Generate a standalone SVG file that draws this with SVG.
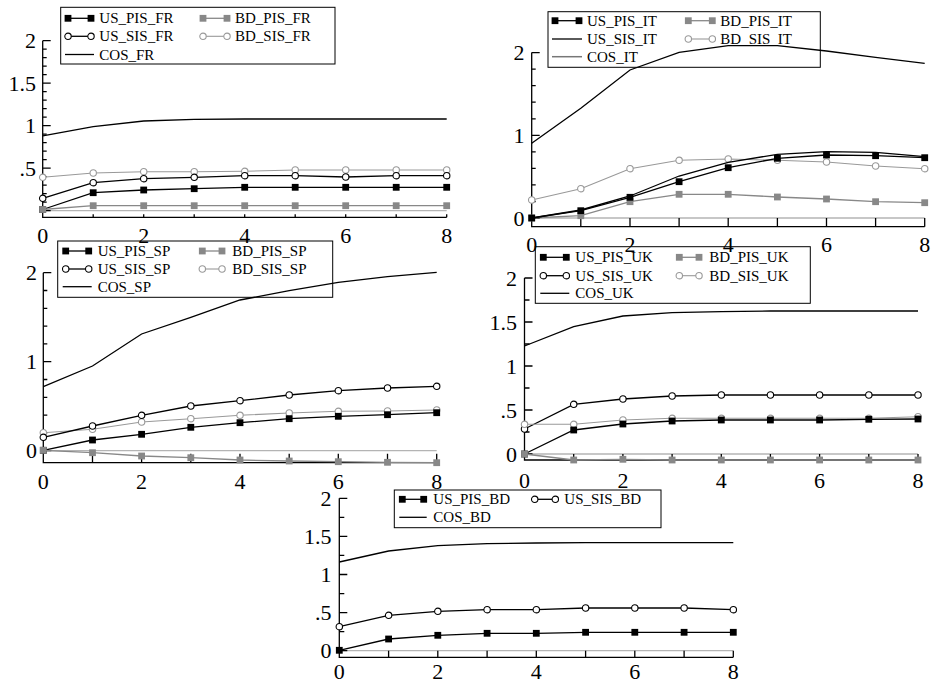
<svg xmlns="http://www.w3.org/2000/svg" width="932" height="688" viewBox="0 0 932 688" font-family="Liberation Serif, Times New Roman, DejaVu Serif, serif">
<style>
text{font-family:'Liberation Serif','Times New Roman','DejaVu Serif',serif;fill:#000}
.ty{font-size:22px;text-anchor:end}
.tx{font-size:22px;text-anchor:middle}
.lg{font-size:15px}
.box{fill:none;stroke:#000;stroke-width:1}
.ax{fill:none;stroke:#000;stroke-width:1.3}
.zero{fill:none;stroke:#b4b4b4;stroke-width:1.3}
.k{fill:none;stroke:#000;stroke-width:1.3}
.g{fill:none;stroke:#999;stroke-width:1.1}
.gd{fill:none;stroke:#888;stroke-width:1.3}
.cosit{fill:none;stroke:#777;stroke-width:1.5}
.sk{marker-start:url(#mSk);marker-mid:url(#mSk);marker-end:url(#mSk)}
.sg{marker-start:url(#mSg);marker-mid:url(#mSg);marker-end:url(#mSg)}
.ck{marker-start:url(#mCk);marker-mid:url(#mCk);marker-end:url(#mCk)}
.cg{marker-start:url(#mCg);marker-mid:url(#mCg);marker-end:url(#mCg)}
</style>
<defs>
<marker id="mSk" markerUnits="userSpaceOnUse" markerWidth="8" markerHeight="8" refX="4" refY="4" overflow="visible"><rect x="0.6" y="0.6" width="6.8" height="6.8" fill="#000"/></marker>
<marker id="mSg" markerUnits="userSpaceOnUse" markerWidth="8" markerHeight="8" refX="4" refY="4" overflow="visible"><rect x="0.6" y="0.6" width="6.8" height="6.8" fill="#888"/></marker>
<marker id="mCk" markerUnits="userSpaceOnUse" markerWidth="9" markerHeight="9" refX="4.5" refY="4.5" overflow="visible"><circle cx="4.5" cy="4.5" r="3.2" fill="#fff" stroke="#000" stroke-width="1.1"/></marker>
<marker id="mCg" markerUnits="userSpaceOnUse" markerWidth="9" markerHeight="9" refX="4.5" refY="4.5" overflow="visible"><circle cx="4.5" cy="4.5" r="3.2" fill="#fff" stroke="#999" stroke-width="1.1"/></marker>
</defs>
<rect width="932" height="688" fill="#fff"/>

<!-- FR -->
<g id="panel-fr">
<line class="zero" x1="42.7" y1="210.7" x2="446.7" y2="210.7"/>
<path class="ax" d="M42.7 40.7V217.3H446.7"/>
<path class="ax" d="M42.7 40.7h8M42.7 49.2h4M42.7 57.7h4M42.7 66.2h4M42.7 74.7h4M42.7 83.2h8M42.7 91.7h4M42.7 100.2h4M42.7 108.7h4M42.7 117.2h4M42.7 125.7h8M42.7 134.2h4M42.7 142.7h4M42.7 151.2h4M42.7 159.7h4M42.7 168.2h8M42.7 176.7h4M42.7 185.2h4M42.7 193.7h4M42.7 202.2h4M42.7 210.7h8M93.2 217.3v-3M143.7 217.3v-3M194.2 217.3v-3M244.7 217.3v-3M295.2 217.3v-3M345.7 217.3v-3M396.2 217.3v-3M446.7 217.3v-3"/>
<text class="ty" x="36" y="48.2">2</text>
<text class="ty" x="36" y="90.7">1.5</text>
<text class="ty" x="36" y="133.2">1</text>
<text class="ty" x="36" y="175.7">.5</text>
<text class="tx" x="42.7" y="243">0</text>
<text class="tx" x="143.7" y="243">2</text>
<text class="tx" x="244.7" y="243">4</text>
<text class="tx" x="345.7" y="243">6</text>
<text class="tx" x="446.7" y="243">8</text>
<polyline class="k" points="42.7,135.9 93.2,126.7 143.7,121 194.2,119.4 244.7,119 295.2,119 345.7,119 396.2,119 446.7,119"/>
<polyline class="g cg" points="42.7,177.3 93.2,173 143.7,171.7 194.2,171.7 244.7,171.3 295.2,170 345.7,170 396.2,170 446.7,170"/>
<polyline class="k ck" points="42.7,198.3 93.2,182.7 143.7,178.7 194.2,177.3 244.7,175.7 295.2,175.7 345.7,177 396.2,175.7 446.7,175.7"/>
<polyline class="k sk" points="42.7,209.5 93.2,192.7 143.7,190 194.2,188.7 244.7,187.3 295.2,187.3 345.7,187.3 396.2,187.3 446.7,187.3"/>
<polyline class="gd sg" points="42.7,209.5 93.2,205.7 143.7,205.7 194.2,205.7 244.7,205.7 295.2,205.7 345.7,205.7 396.2,205.7 446.7,205.7"/>
<g id="legend-fr">
<rect class="box" x="60.7" y="7.3" width="274.3" height="56.7"/>
<polyline class="k sk" points="68,18.3 91,18.3"/><text class="lg" x="99.3" y="23.3">US_PIS_FR</text>
<polyline class="gd sg" points="203,18.3 227,18.3"/><text class="lg" x="235" y="23.3">BD_PIS_FR</text>
<polyline class="k ck" points="68,36.3 91,36.3"/><text class="lg" x="99.3" y="41.3">US_SIS_FR</text>
<polyline class="g cg" points="203,36.3 227,36.3"/><text class="lg" x="235" y="41.3">BD_SIS_FR</text>
<polyline class="k" points="65,54.5 94,54.5"/><text class="lg" x="99.3" y="59.5">COS_FR</text>
</g>
</g>

<!-- IT -->
<g id="panel-it">
<line class="zero" x1="531.7" y1="218" x2="924.7" y2="218"/>
<path class="ax" d="M531.7 52.6V226.7H924.7"/>
<path class="ax" d="M531.7 52.6h8M531.7 69.1h4M531.7 85.7h4M531.7 102.2h4M531.7 118.8h4M531.7 135.3h8M531.7 151.8h4M531.7 168.4h4M531.7 184.9h4M531.7 201.5h4M531.7 218h8M580.8 226.7v-8.7M630 226.7v-8.7M679.1 226.7v-8.7M728.2 226.7v-8.7M777.4 226.7v-8.7M826.5 226.7v-8.7M875.6 226.7v-8.7M924.7 226.7v-8.7"/>
<text class="ty" x="524.5" y="60.1">2</text>
<text class="ty" x="524.5" y="142.8">1</text>
<text class="ty" x="524.5" y="225.5">0</text>
<text class="tx" x="531.7" y="252">0</text>
<text class="tx" x="630" y="252">2</text>
<text class="tx" x="728.2" y="252">4</text>
<text class="tx" x="826.5" y="252">6</text>
<text class="tx" x="924.7" y="252">8</text>
<polyline class="k" points="531.7,143.3 580.8,108.3 630,70 679.1,52.3 728.2,45.7 777.4,45.7 826.5,51 875.6,57.3 924.7,63.3"/>
<polyline class="g cg" points="531.7,200 580.8,188.7 630,168.7 679.1,160.3 728.2,159 777.4,160.3 826.5,162 875.6,166 924.7,168.7"/>
<polyline class="gd sg" points="531.7,218 580.8,215.7 630,201.7 679.1,194.3 728.2,194.3 777.4,197 826.5,199 875.6,201.7 924.7,202.7"/>
<polyline class="k" points="531.7,218 580.8,210 630,196 679.1,176 728.2,162.3 777.4,154.3 826.5,151.7 875.6,152.3 924.7,156.7"/>
<polyline class="k sk" points="531.7,218 580.8,210.7 630,197.3 679.1,181.7 728.2,167.7 777.4,158.3 826.5,155 875.6,155.7 924.7,157.7"/>
<g id="legend-it">
<rect class="box" x="548" y="11.7" width="272.3" height="55.6"/>
<polyline class="k sk" points="555,20.7 579,20.7"/><text class="lg" x="587" y="25.7">US_PIS_IT</text>
<polyline class="gd sg" points="688.3,20.7 712.3,20.7"/><text class="lg" x="720.3" y="25.7">BD_PIS_IT</text>
<polyline class="k" points="552,39 582,39"/><text class="lg" x="587" y="44">US_SIS_IT</text>
<polyline class="g cg" points="688.3,39 712.3,39"/><text class="lg" x="720.3" y="44">BD_SIS_IT</text>
<polyline class="cosit" points="552,56.7 582,56.7"/><text class="lg" x="587" y="61.7">COS_IT</text>
</g>
</g>

<!-- SP -->
<g id="panel-sp">
<line class="zero" x1="43.3" y1="450.7" x2="436.7" y2="450.7"/>
<path class="ax" d="M43.3 272.7V462.7H436.7"/>
<path class="ax" d="M43.3 272.7h8M43.3 290.5h4M43.3 308.3h4M43.3 326.1h4M43.3 343.9h4M43.3 361.7h8M43.3 379.5h4M43.3 397.3h4M43.3 415.1h4M43.3 432.9h4M43.3 450.7h8M92.5 462.7v-9M141.6 462.7v-9M190.8 462.7v-9M240 462.7v-9M289.2 462.7v-9M338.3 462.7v-9M387.5 462.7v-9M436.7 462.7v-9"/>
<text class="ty" x="37" y="280.2">2</text>
<text class="ty" x="37" y="369.2">1</text>
<text class="ty" x="37" y="458.2">0</text>
<text class="tx" x="43.3" y="488.5">0</text>
<text class="tx" x="141.6" y="488.5">2</text>
<text class="tx" x="240" y="488.5">4</text>
<text class="tx" x="338.3" y="488.5">6</text>
<text class="tx" x="436.7" y="488.5">8</text>
<polyline class="k" points="43.3,386.7 92.5,366 141.6,334 190.8,317.3 240,300 289.2,290.7 338.3,282.3 387.5,276.7 436.7,272.3"/>
<polyline class="g cg" points="43.3,432.7 92.5,429.3 141.6,422 190.8,418.7 240,415.3 289.2,413 338.3,411.3 387.5,411 436.7,410"/>
<polyline class="k ck" points="43.3,437.3 92.5,426 141.6,415.3 190.8,406 240,400.7 289.2,395 338.3,390.7 387.5,388 436.7,386.3"/>
<polyline class="k sk" points="43.3,450.3 92.5,440 141.6,434.3 190.8,427.3 240,422.7 289.2,418.7 338.3,416.3 387.5,414.7 436.7,412.7"/>
<polyline class="gd sg" points="43.3,450.3 92.5,452.7 141.6,456 190.8,457.7 240,460 289.2,461 338.3,461.7 387.5,462.3 436.7,462.7"/>
<g id="legend-sp">
<rect class="box" x="57.7" y="241" width="275" height="56.3"/>
<polyline class="k sk" points="65.7,251 88.7,251"/><text class="lg" x="97.7" y="256">US_PIS_SP</text>
<polyline class="gd sg" points="202.3,251 222,251"/><text class="lg" x="232.3" y="256">BD_PIS_SP</text>
<polyline class="k ck" points="65.7,269 88.7,269"/><text class="lg" x="97.7" y="274">US_SIS_SP</text>
<polyline class="g cg" points="202.3,269 222,269"/><text class="lg" x="232.3" y="274">BD_SIS_SP</text>
<polyline class="k" points="62.7,286.7 91.7,286.7"/><text class="lg" x="97.7" y="291.7">COS_SP</text>
</g>
</g>

<!-- UK -->
<g id="panel-uk">
<line class="zero" x1="524.5" y1="454" x2="918" y2="454"/>
<path class="ax" d="M524.5 278V460H918"/>
<path class="ax" d="M524.5 278h8M524.5 300h5M524.5 322h8M524.5 344h5M524.5 366h8M524.5 388h5M524.5 410h8M524.5 432h5M524.5 454h8M573.7 460v-6M622.9 460v-6M672.1 460v-6M721.3 460v-6M770.4 460v-6M819.6 460v-6M868.8 460v-6M918 460v-6"/>
<text class="ty" x="517" y="285.5">2</text>
<text class="ty" x="517" y="329.5">1.5</text>
<text class="ty" x="517" y="373.5">1</text>
<text class="ty" x="517" y="417.5">.5</text>
<text class="ty" x="517" y="461.5">0</text>
<text class="tx" x="524.5" y="488">0</text>
<text class="tx" x="622.9" y="488">2</text>
<text class="tx" x="721.3" y="488">4</text>
<text class="tx" x="819.6" y="488">6</text>
<text class="tx" x="918" y="488">8</text>
<polyline class="k" points="524.5,346 573.7,326.7 622.9,316 672.1,312.7 721.3,311.7 770.4,311 819.6,311 868.8,311 918,311"/>
<polyline class="k ck" points="524.5,429 573.7,404.3 622.9,399 672.1,396 721.3,395 770.4,395 819.6,395 868.8,395 918,395"/>
<polyline class="g cg" points="524.5,424.3 573.7,424.3 622.9,420 672.1,418.3 721.3,418.3 770.4,418.3 819.6,418.3 868.8,418.3 918,416.7"/>
<polyline class="k sk" points="524.5,454 573.7,430 622.9,424 672.1,421 721.3,420 770.4,420 819.6,420 868.8,419.3 918,419"/>
<polyline class="gd sg" points="524.5,454 573.7,460 622.9,459.3 672.1,460 721.3,460 770.4,460 819.6,460 868.8,460 918,460"/>
<g id="legend-uk">
<rect class="box" x="535.3" y="246.7" width="275" height="56.6"/>
<polyline class="k sk" points="543.3,257.3 566.3,257.3"/><text class="lg" x="575.3" y="262.3">US_PIS_UK</text>
<polyline class="gd sg" points="679.3,257.3 699,257.3"/><text class="lg" x="709.3" y="262.3">BD_PIS_UK</text>
<polyline class="k ck" points="543.3,275.7 566.3,275.7"/><text class="lg" x="575.3" y="280.7">US_SIS_UK</text>
<polyline class="g cg" points="679.3,275.7 699,275.7"/><text class="lg" x="709.3" y="280.7">BD_SIS_UK</text>
<polyline class="k" points="540.3,293.3 569.3,293.3"/><text class="lg" x="575.3" y="298.3">COS_UK</text>
</g>
</g>

<!-- BD -->
<g id="panel-bd">
<line class="zero" x1="339.3" y1="650.7" x2="733.3" y2="650.7"/>
<path class="ax" d="M339.3 498.3V657.3H733.3"/>
<path class="ax" d="M339.3 498.3h8M339.3 517.35h5M339.3 536.4h8M339.3 555.45h5M339.3 574.5h8M339.3 593.55h5M339.3 612.6h8M339.3 631.65h5M339.3 650.7h8M388.6 657.3v-6.6M437.8 657.3v-6.6M487.1 657.3v-6.6M536.3 657.3v-6.6M585.6 657.3v-6.6M634.8 657.3v-6.6M684.1 657.3v-6.6M733.3 657.3v-6.6"/>
<text class="ty" x="331.5" y="505.8">2</text>
<text class="ty" x="331.5" y="543.9">1.5</text>
<text class="ty" x="331.5" y="582">1</text>
<text class="ty" x="331.5" y="620.1">.5</text>
<text class="ty" x="331.5" y="658.2">0</text>
<text class="tx" x="339.3" y="678.5">0</text>
<text class="tx" x="437.8" y="678.5">2</text>
<text class="tx" x="536.3" y="678.5">4</text>
<text class="tx" x="634.8" y="678.5">6</text>
<text class="tx" x="733.3" y="678.5">8</text>
<polyline class="k" points="339.3,562 388.6,551 437.8,545.7 487.1,543.7 536.3,543 585.6,542.7 634.8,542.7 684.1,542.7 733.3,542.7"/>
<polyline class="k ck" points="339.3,626.7 388.6,615.3 437.8,611.3 487.1,609.7 536.3,609.7 585.6,608 634.8,608 684.1,608 733.3,609.7"/>
<polyline class="k sk" points="339.3,650.3 388.6,639 437.8,635.3 487.1,633.3 536.3,633.3 585.6,632.3 634.8,632.3 684.1,632.3 733.3,632.3"/>
<g id="legend-bd">
<rect class="box" x="394.3" y="490" width="266.7" height="37.7"/>
<polyline class="k sk" points="402.3,499.3 423.7,499.3"/><text class="lg" x="433.3" y="504.3">US_PIS_BD</text>
<polyline class="k ck" points="534.7,499.3 555.3,499.3"/><text class="lg" x="564.3" y="504.3">US_SIS_BD</text>
<polyline class="k" points="399.3,517.3 426.7,517.3"/><text class="lg" x="433.3" y="522.3">COS_BD</text>
</g>
</g>
</svg>
